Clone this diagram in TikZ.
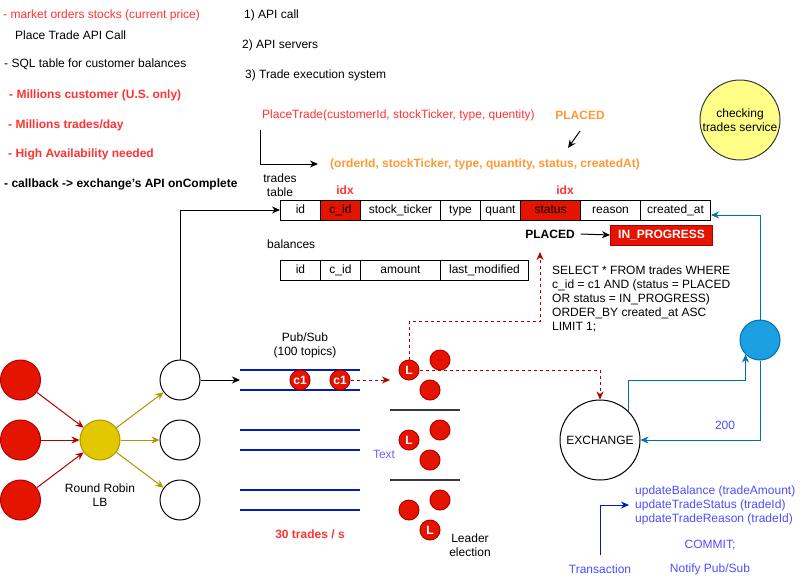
\documentclass[tikz,border=0pt]{standalone}
\usepackage{fontspec}
\setmainfont{Liberation Sans}
\usetikzlibrary{arrows.meta,calc,positioning}
\definecolor{textred}{HTML}{FF3333}
\definecolor{fillred}{HTML}{E51400}
\definecolor{strokered}{HTML}{B20000}
\definecolor{lbfill}{HTML}{E3C800}
\definecolor{lbstroke}{HTML}{B09500}
\definecolor{fieldorange}{HTML}{FF9933}
\definecolor{servicefill}{HTML}{FFFF88}
\definecolor{servicestroke}{HTML}{36393D}
\definecolor{notifyfill}{HTML}{1BA1E2}
\definecolor{notifystroke}{HTML}{006EAF}
\definecolor{topicblue}{HTML}{001DBC}
\definecolor{noteblue}{HTML}{4D4DFF}
\definecolor{hintblue}{HTML}{6666FF}
\newcommand{\txtsize}{\fontsize{12pt}{14pt}\selectfont}
\tikzset{
  note/.style={inner sep=0pt, anchor=west, font=\txtsize},
  centered note/.style={note, anchor=center},
  cell/.style={
    draw=black, line width=1pt, anchor=west,
    minimum height=20pt, inner sep=0pt, font=\txtsize,
    text height=8.6pt, text depth=2.6pt
  },
  keycell/.style={cell, fill=fillred},
  client/.style={circle, draw=strokered, fill=fillred, line width=1pt,
    minimum size=40pt, inner sep=0pt},
  server/.style={circle, draw=black, line width=1pt,
    minimum size=40pt, inner sep=0pt},
  token/.style={circle, draw=strokered, fill=fillred, line width=1pt,
    minimum size=20pt, inner sep=0pt, text=white, font=\txtsize\bfseries},
  flow arrow/.style={black, line width=1pt, -{Stealth[length=8pt,width=7pt]}},
  client arrow/.style={strokered, line width=1pt, -{Stealth[length=8pt,width=7pt]}},
  lb arrow/.style={lbstroke, line width=1pt, -{Stealth[length=8pt,width=7pt]}},
  poll arrow/.style={
    strokered, line width=1pt, dash pattern=on 3pt off 3pt,
    -{Stealth[length=8pt,width=7pt]}
  },
  notify arrow/.style={notifystroke, line width=1pt, -{Stealth[length=8pt,width=7pt]}},
  txn arrow/.style={topicblue, line width=1pt, -{Stealth[length=8pt,width=7pt]}},
  topic/.style={topicblue, line width=2pt},
  separator/.style={servicestroke, line width=2pt}
}

\begin{document}
\begin{tikzpicture}[x=1pt, y=-1pt]
  \useasboundingbox (0,0) rectangle (802,587);

  % Requirements.
  \node[note, text=textred] (market) at (3,15) {- market orders stocks (current price)};
  \node[note] (placecall) at (15,35) {Place Trade API Call};
  \node[note] (sqlnote) at (4,64) {- SQL table for customer balances};
  \node[note, text=textred, font=\txtsize\bfseries] (customers) at (9,95)
    {- Millions customer (U.S. only)};
  \node[note, text=textred, font=\txtsize\bfseries] (tradesday) at (8,125)
    {- Millions trades/day};
  \node[note, text=textred, font=\txtsize\bfseries] (availability) at (8,154)
    {- High Availability needed};
  \node[note, font=\txtsize\bfseries] (callback) at (4,184)
    {- callback -> exchange's API onComplete};

  % Steps.
  \node[note] (stepone) at (244,15) {1) API call};
  \node[note] (steptwo) at (242,45) {2) API servers};
  \node[note] (stepthree) at (245,75) {3) Trade execution system};

  % API call and stored fields.
  \node[note, text=textred] (placetrade) at (262,115)
    {PlaceTrade(customerId, stockTicker, type, quentity)};
  \node[centered note, text=fieldorange, font=\txtsize\bfseries] (placed) at (580,115) {PLACED};
  \node[note, text=fieldorange, font=\txtsize\bfseries] (fields) at (330,164)
    {(orderId, stockTicker, type, quantity, status, createdAt)};
  \coordinate (callstart) at (260,130);
  \draw[flow arrow] (callstart) |- ([xshift=-12pt]fields.west);
  \coordinate (placedfrom) at (580,131);
  \coordinate (placedto) at (568,148);
  \draw[flow arrow] (placedfrom) -- (placedto);

  % Trades table.
  \node[centered note, align=center] (tradeslabel) at (280,185) {trades\\table};
  \node[centered note, text=textred, font=\txtsize\bfseries] (idxcid) at (345,190) {idx};
  \node[centered note, text=textred, font=\txtsize\bfseries] (idxstatus) at (565,190) {idx};
  \node[cell, minimum width=40pt] (tid) at (280,210) {id};
  \node[keycell, minimum width=40pt] (tcid) at (320,210) {c\_id};
  \node[cell, minimum width=80pt] (tticker) at (360,210) {stock\_ticker};
  \node[cell, minimum width=40pt] (ttype) at (440,210) {type};
  \node[cell, minimum width=40pt] (tquant) at (480,210) {quant};
  \node[keycell, minimum width=60pt] (tstatus) at (520,210) {status};
  \node[cell, minimum width=60pt] (treason) at (580,210) {reason};
  \node[cell, minimum width=70pt] (tcreated) at (640,210) {created\_at};

  % Status change.
  \node[centered note, font=\txtsize\bfseries, inner xsep=6pt] (placedstate) at (550,234) {PLACED};
  \node[cell, draw=strokered, fill=fillred, text=white, font=\txtsize\bfseries,
    minimum width=102pt] (progress) at (610,235) {IN\_PROGRESS};
  \draw[flow arrow] (placedstate.east) -- (progress.west);

  % Balances table.
  \node[note] (balanceslabel) at (267,244) {balances};
  \node[cell, minimum width=40pt] (bid) at (280,270) {id};
  \node[cell, minimum width=40pt] (bcid) at (320,270) {c\_id};
  \node[cell, minimum width=80pt] (bamount) at (360,270) {amount};
  \node[cell, minimum width=88pt] (blast) at (440,270) {last\_modified};

  % Polling query.
  \node[note, align=left] (query) at (552,299)
    {SELECT * FROM trades WHERE\\
     c\_id = c1 AND (status = PLACED\\
     OR status = IN\_PROGRESS)\\
     ORDER\_BY created\_at ASC\\
     LIMIT 1;};

  % Clients, load balancer and API servers.
  \node[client] (clientone) at (20.5,380) {};
  \node[client] (clienttwo) at (20.5,440) {};
  \node[client] (clientthree) at (20.5,500) {};
  \node[circle, draw=lbstroke, fill=lbfill, line width=1pt, minimum size=40pt] (lb) at (100,440) {};
  \node[centered note, align=center] (lblabel) at (100,495) {Round Robin\\LB};
  \node[server] (apione) at (180,380) {};
  \node[server] (apitwo) at (180,440) {};
  \node[server] (apithree) at (180,500) {};
  \draw[client arrow] (clientone) -- (lb);
  \draw[client arrow] (clienttwo) -- (lb);
  \draw[client arrow] (clientthree) -- (lb);
  \draw[lb arrow] (lb) -- (apione);
  \draw[lb arrow] (lb) -- (apitwo);
  \draw[lb arrow] (lb) -- (apithree);
  \draw[flow arrow] (apione.north) |- (tid.west);

  % Pub/Sub topics.
  \node[centered note, align=center] (pubsub) at (305,345) {Pub/Sub\\(100 topics)};
  \foreach \y in {370,390,430,450,490,510}
    \draw[topic] (240,\y) -- (360,\y);
  \coordinate (topicin) at (240,380);
  \draw[flow arrow] (apione.east) -- (topicin);
  \node[token] (msgone) at (300,380) {c1};
  \node[token] (msgtwo) at (340,380) {c1};
  \coordinate (queueout) at (390,380);
  \draw[poll arrow] (msgtwo.east) -- (queueout);
  \node[note, anchor=center, text=hintblue] (hint) at (384,454) {Text};
  \node[centered note, text=textred, font=\txtsize\bfseries] (rate) at (310,534) {30 trades / s};

  % Consumer groups with elected leaders.
  \node[token] (leaderone) at (409,370) {L};
  \node[token] (peeroneA) at (440,360) {};
  \node[token] (peeroneB) at (430,390) {};
  \draw[separator] (390,410) -- (460,410);
  \node[token] (leadertwo) at (409,440) {L};
  \node[token] (peertwoA) at (440,430) {};
  \node[token] (peertwoB) at (430,460) {};
  \draw[separator] (390,480) -- (460,480);
  \node[token] (peerthreeA) at (409,510) {};
  \node[token] (peerthreeB) at (440,500) {};
  \node[token] (leaderthree) at (430,530) {L};
  \node[centered note, align=center] (election) at (470,545) {Leader\\election};

  % Exchange and callback.
  \node[circle, draw=black, line width=1pt, minimum size=80pt, inner sep=0pt,
    font=\txtsize] (exchange) at (600,440) {EXCHANGE};
  \node[circle, draw=notifystroke, fill=notifyfill, line width=1pt,
    minimum size=40pt] (notifier) at (760,340) {};
  \node[circle, draw=servicestroke, fill=servicefill, line width=1pt,
    minimum size=80pt, inner sep=0pt, align=center, font=\txtsize] (checker) at (740,120)
    {checking\\trades service};
  \coordinate (pollturn) at (540,321);
  \coordinate (pollend) at (540,252);
  \draw[poll arrow] (leaderone.north) |- (pollturn) -- (pollend);
  \draw[poll arrow] (leaderone.east) -| (exchange.north);
  \draw[notify arrow] (exchange.north east) -- ++(0,-31) -| (notifier.south west);
  \draw[notify arrow] (notifier.south) |- (exchange.east);
  \draw[notify arrow] (notifier.north) |- ([yshift=-5pt]tcreated.east);
  \node[centered note, text=noteblue] (okcode) at (725,425) {200};

  % Transaction.
  \node[note, align=left, text=noteblue] (updates) at (635,505)
    {updateBalance (tradeAmount)\\
     updateTradeStatus (tradeId)\\
     updateTradeReason (tradeId)};
  \node[centered note, text=noteblue] (commit) at (710,545) {COMMIT;};
  \node[centered note, text=noteblue] (transaction) at (600,569) {Transaction};
  \node[centered note, text=noteblue] (notify) at (710,569) {Notify Pub/Sub};
  \draw[txn arrow] ([yshift=9pt]transaction.north) |- ([xshift=-6pt]updates.west);

\end{tikzpicture}
\end{document}
